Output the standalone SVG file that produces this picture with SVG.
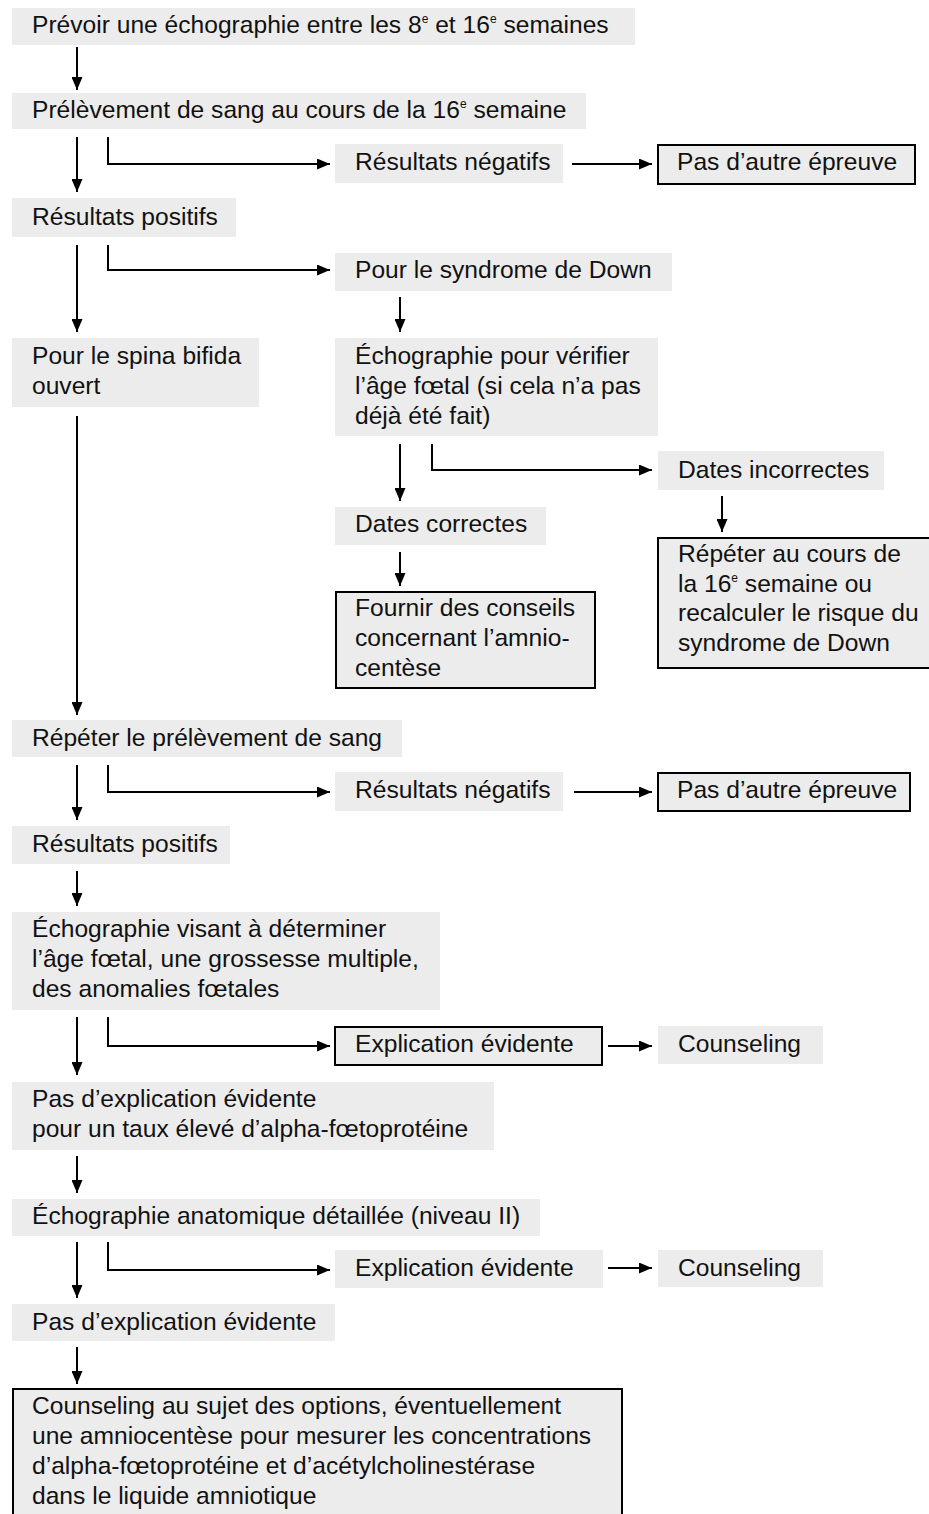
<svg xmlns="http://www.w3.org/2000/svg" width="929" height="1514" viewBox="0 0 929 1514">
<style>
.b{fill:#ececec;stroke:none}
.bb{fill:#ececec;stroke:#000;stroke-width:2}
text{font-family:"Liberation Sans",Arial,sans-serif;font-size:24.6px;fill:#111}
.sup{font-size:12px}
.c path{fill:none;stroke:#000;stroke-width:2}
</style>
<defs>
<marker id="ah" markerUnits="userSpaceOnUse" markerWidth="13" markerHeight="11" refX="13" refY="5.5" orient="auto">
<path d="M0,0 L13,5.5 L0,11 z" fill="#000"/>
</marker>
</defs>
<rect width="929" height="1514" fill="#fff"/>

<g id="n1"><rect class="b" x="12" y="8" width="623" height="37"/><text x="32" y="33">Prévoir une échographie entre les 8<tspan class="sup" dy="-10">e</tspan><tspan dy="10"> et 16</tspan><tspan class="sup" dy="-10">e</tspan><tspan dy="10"> semaines</tspan></text></g>
<g id="n2"><rect class="b" x="12" y="93" width="574" height="36"/><text x="32" y="118">Prélèvement de sang au cours de la 16<tspan class="sup" dy="-10">e</tspan><tspan dy="10"> semaine</tspan></text></g>
<g id="n3"><rect class="b" x="335" y="144" width="228" height="39"/><text x="355" y="170">Résultats négatifs</text></g>
<g id="n4"><rect class="bb" x="658" y="145" width="257" height="39"/><text x="677" y="170">Pas d’autre épreuve</text></g>
<g id="n5"><rect class="b" x="12" y="198" width="224" height="39"/><text x="32" y="225">Résultats positifs</text></g>
<g id="n6"><rect class="b" x="335" y="253" width="337" height="38"/><text x="355" y="278">Pour le syndrome de Down</text></g>
<g id="n7"><rect class="b" x="12" y="338" width="247" height="69"/><text x="32" y="364">Pour le spina bifida</text><text x="32" y="394">ouvert</text></g>
<g id="n8"><rect class="b" x="335" y="338" width="323" height="98"/><text x="355" y="364">Échographie pour vérifier</text><text x="355" y="394">l’âge fœtal (si cela n’a pas</text><text x="355" y="424">déjà été fait)</text></g>
<g id="n9"><rect class="b" x="658" y="451" width="226" height="39"/><text x="678" y="478">Dates incorrectes</text></g>
<g id="n10"><rect class="b" x="335" y="507" width="211" height="38"/><text x="355" y="532">Dates correctes</text></g>
<g id="n11"><rect class="bb" x="336" y="592" width="259" height="96"/><text x="355" y="616">Fournir des conseils</text><text x="355" y="646">concernant l’amnio-</text><text x="355" y="676">centèse</text></g>
<g id="n12"><rect class="bb" x="658" y="538" width="280" height="130"/><text x="678" y="562">Répéter au cours de</text><text x="678" y="592">la 16<tspan class="sup" dy="-10">e</tspan><tspan dy="10"> semaine ou</tspan></text><text x="678" y="621">recalculer le risque du</text><text x="678" y="651">syndrome de Down</text></g>
<g id="n13"><rect class="b" x="12" y="720" width="390" height="37"/><text x="32" y="746">Répéter le prélèvement de sang</text></g>
<g id="n14"><rect class="b" x="335" y="772" width="228" height="39"/><text x="355" y="798">Résultats négatifs</text></g>
<g id="n15"><rect class="bb" x="658" y="773" width="252" height="38"/><text x="677" y="798">Pas d’autre épreuve</text></g>
<g id="n16"><rect class="b" x="12" y="826" width="218" height="38"/><text x="32" y="852">Résultats positifs</text></g>
<g id="n17"><rect class="b" x="12" y="912" width="428" height="98"/><text x="32" y="937">Échographie visant à déterminer</text><text x="32" y="967">l’âge fœtal, une grossesse multiple,</text><text x="32" y="997">des anomalies fœtales</text></g>
<g id="n18"><rect class="bb" x="335" y="1027" width="267" height="38"/><text x="355" y="1052">Explication évidente</text></g>
<g id="n19"><rect class="b" x="658" y="1026" width="165" height="38"/><text x="678" y="1052">Counseling</text></g>
<g id="n20"><rect class="b" x="12" y="1082" width="482" height="68"/><text x="32" y="1107">Pas d’explication évidente</text><text x="32" y="1137">pour un taux élevé d’alpha-fœtoprotéine</text></g>
<g id="n21"><rect class="b" x="12" y="1199" width="528" height="37"/><text x="32" y="1224">Échographie anatomique détaillée (niveau II)</text></g>
<g id="n22"><rect class="b" x="335" y="1250" width="268" height="38"/><text x="355" y="1276">Explication évidente</text></g>
<g id="n23"><rect class="b" x="658" y="1250" width="165" height="37"/><text x="678" y="1276">Counseling</text></g>
<g id="n24"><rect class="b" x="12" y="1304" width="323" height="37"/><text x="32" y="1330">Pas d’explication évidente</text></g>
<g id="n25"><rect class="bb" x="13" y="1389" width="609" height="140"/><text x="32" y="1414">Counseling au sujet des options, éventuellement</text><text x="32" y="1444">une amniocentèse pour mesurer les concentrations</text><text x="32" y="1474">d’alpha-fœtoprotéine et d’acétylcholinestérase</text><text x="32" y="1504">dans le liquide amniotique</text></g>

<g id="connectors" class="c">
<path d="M77,47 V90" marker-end="url(#ah)"/>
<path d="M77,137 V192" marker-end="url(#ah)"/>
<path d="M108,137 V164 H330" marker-end="url(#ah)"/>
<path d="M572,164 H652" marker-end="url(#ah)"/>
<path d="M77,245 V332" marker-end="url(#ah)"/>
<path d="M108,245 V270 H330" marker-end="url(#ah)"/>
<path d="M400,297 V332" marker-end="url(#ah)"/>
<path d="M77,416 V715" marker-end="url(#ah)"/>
<path d="M400,444 V501" marker-end="url(#ah)"/>
<path d="M432,444 V470 H652" marker-end="url(#ah)"/>
<path d="M722,496 V532" marker-end="url(#ah)"/>
<path d="M400,552 V586" marker-end="url(#ah)"/>
<path d="M77,765 V820" marker-end="url(#ah)"/>
<path d="M108,765 V792 H330" marker-end="url(#ah)"/>
<path d="M574,792 H652" marker-end="url(#ah)"/>
<path d="M77,871 V906" marker-end="url(#ah)"/>
<path d="M77,1017 V1075" marker-end="url(#ah)"/>
<path d="M108,1017 V1046 H330" marker-end="url(#ah)"/>
<path d="M608,1046 H652" marker-end="url(#ah)"/>
<path d="M77,1156 V1193" marker-end="url(#ah)"/>
<path d="M77,1242 V1298" marker-end="url(#ah)"/>
<path d="M108,1242 V1270 H330" marker-end="url(#ah)"/>
<path d="M608,1268 H652" marker-end="url(#ah)"/>
<path d="M77,1347 V1384" marker-end="url(#ah)"/>
</g>
</svg>
